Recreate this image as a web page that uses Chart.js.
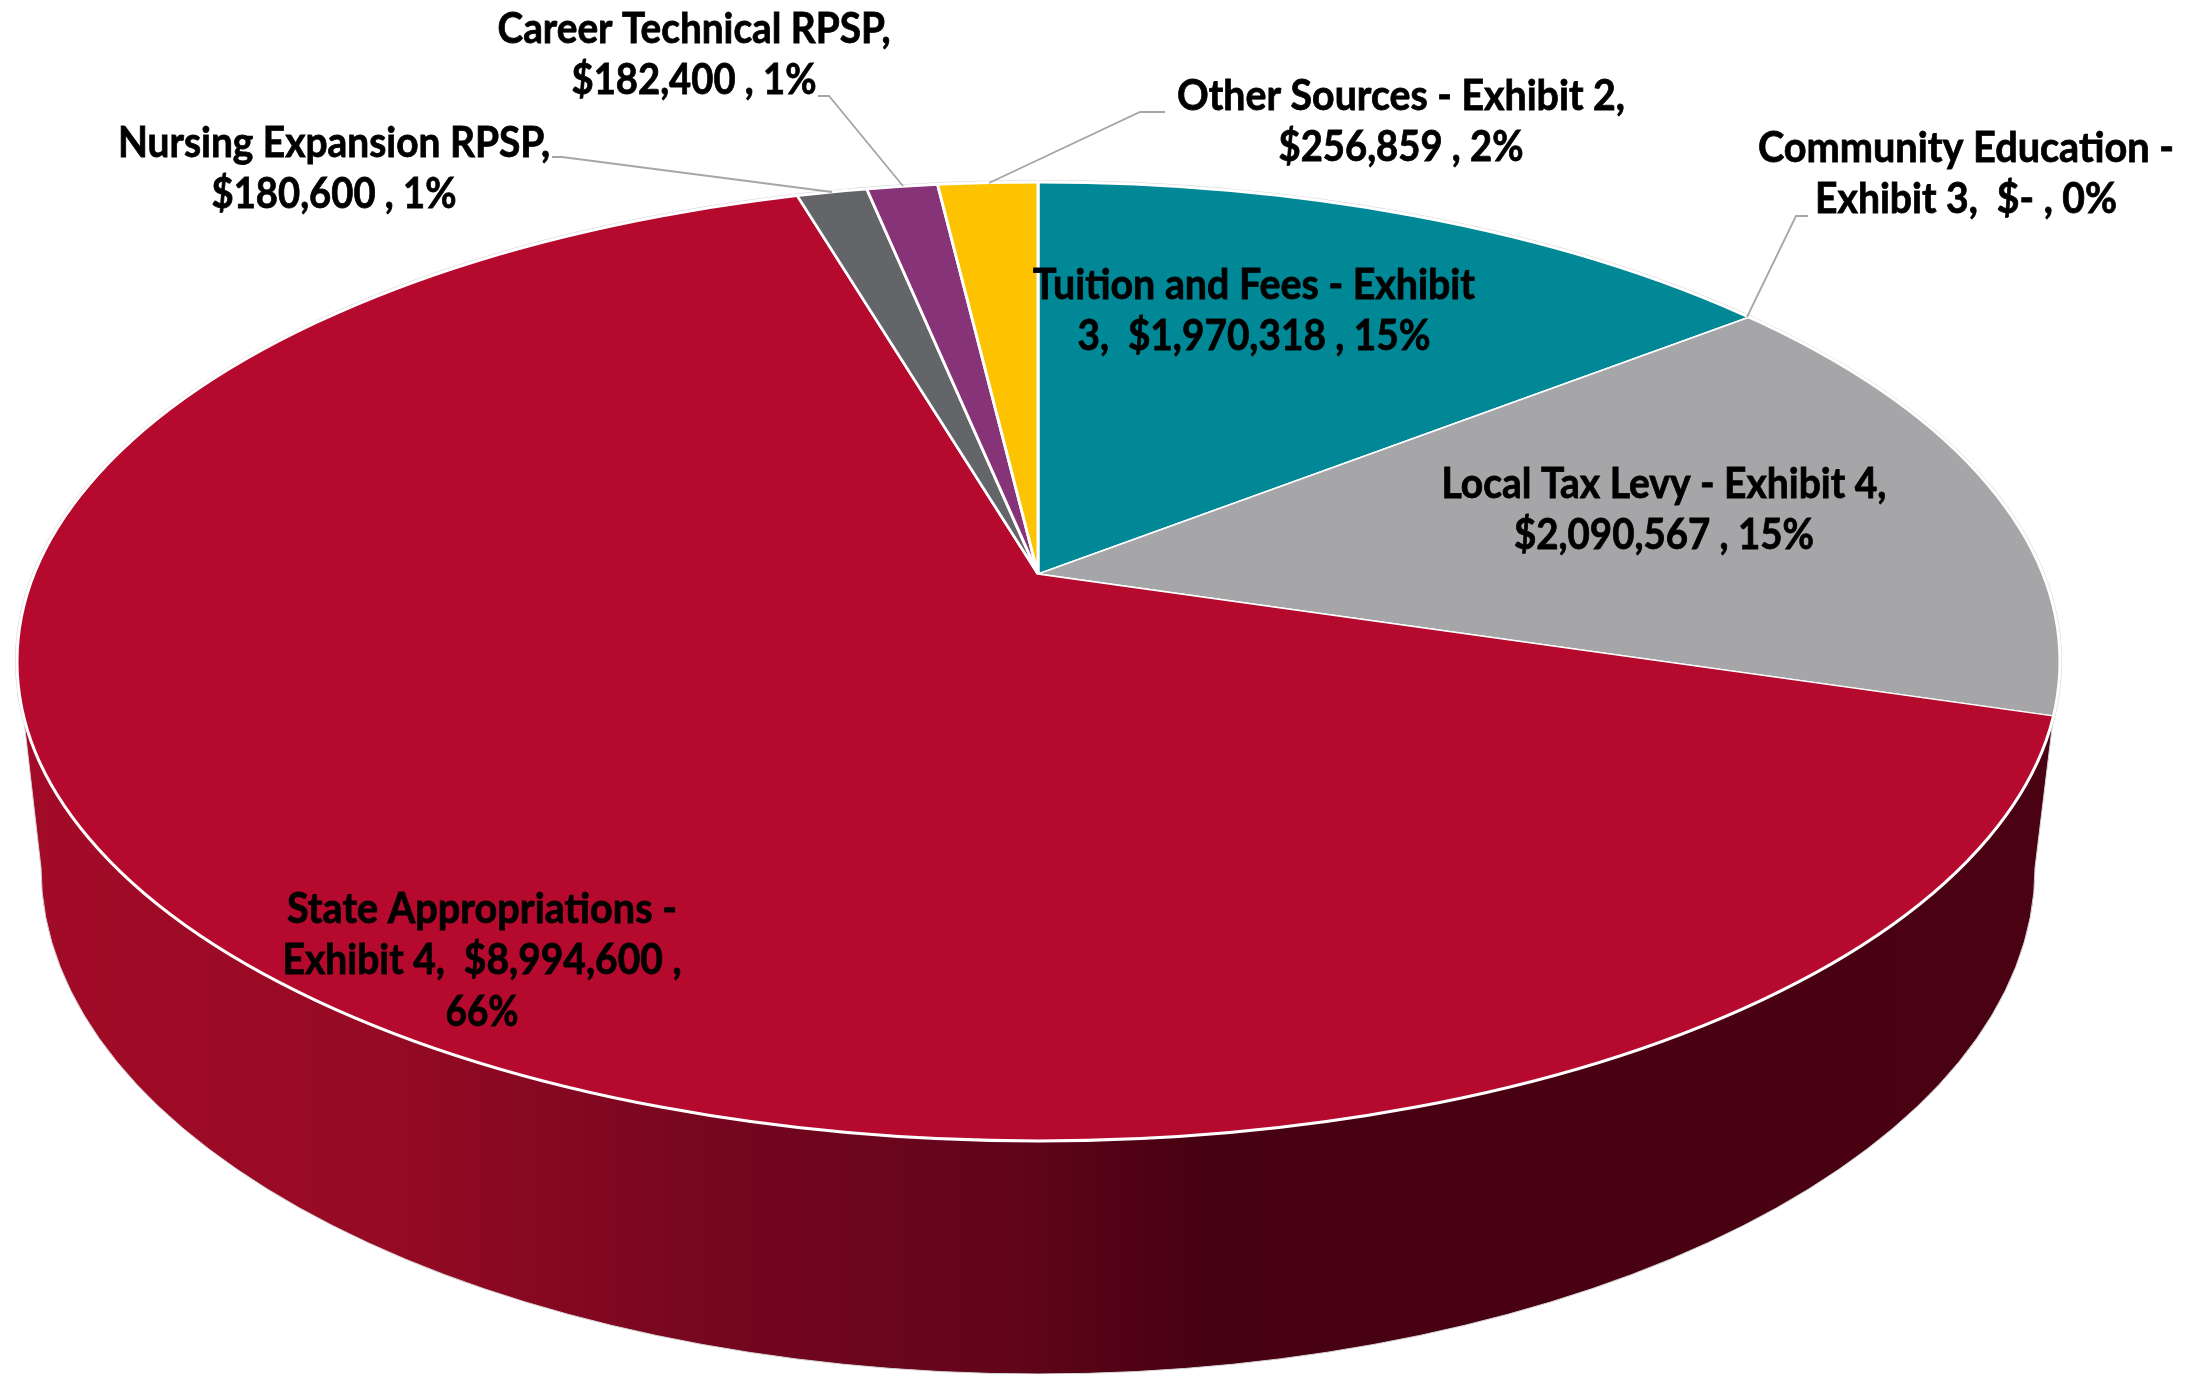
<!DOCTYPE html>
<html>
<head>
<meta charset="utf-8">
<title>Revenue sources</title>
<script src="https://cdn.jsdelivr.net/npm/chart.js@4"></script>
<style>
html, body { margin: 0; padding: 0; background: #fff; overflow: hidden; }
canvas { display: block; }
</style>
</head>
<body>
<canvas id="pieChart" width="2191" height="1374"></canvas>
<script>
var categories = ['Tuition and Fees - Exhibit 3', 'Community Education - Exhibit 3', 'Local Tax Levy - Exhibit 4', 'State Appropriations - Exhibit 4', 'Nursing Expansion RPSP', 'Career Technical RPSP', 'Other Sources - Exhibit 2'];
var amounts = [1970318, 0, 2090567, 8994600, 180600, 182400, 256859];
var sliceColors = ['#018896', '#a6a6a8', '#a6a6a8', '#b50a2e', '#636569', '#873378', '#fdc300'];

// label text as wrapped in the picture
var labelText = [
    ['Tuition and Fees - Exhibit', '3,  $1,970,318 , 15%'],
    ['Community Education -', 'Exhibit 3,  $- , 0%'],
    ['Local Tax Levy - Exhibit 4,', '$2,090,567 , 15%'],
    ['State Appropriations -', 'Exhibit 4,  $8,994,600 ,', '66%'],
    ['Nursing Expansion RPSP,', '$180,600 , 1%'],
    ['Career Technical RPSP,', '$182,400 , 1%'],
    ['Other Sources - Exhibit 2,', '$256,859 , 2%']
];

// x centre, first line y, width of every line
var labelLayout = [
    {x: 1254, y: 285, w: [442, 353]},
    {x: 1966, y: 148, w: [416, 302]},
    {x: 1664, y: 484, w: [445, 300]},
    {x: 482, y: 909, w: [390, 399, 73]},
    {x: 334, y: 143, w: [432, 245]},
    {x: 694, y: 29, w: [393, 245]},
    {x: 1401, y: 96, w: [448, 245]}
];

var leaderLines = [
    [[552, 157], [562, 157], [832, 192]],
    [[818, 96], [829, 96], [903, 186]],
    [[989, 183], [1140, 112], [1165, 112]],
    [[1747, 317], [1796, 216], [1808, 216]]
];

// top face of the pie, the apex sits above the centre of the ellipse
var face = {cx: 1038.5, cy: 661.5, rx: 1021.5, ry: 479.5};
var apex = {x: 1038, y: 574, squash: 0.46};
var base = {cx: 1038, cy: 868, rx: 997, ry: 506};
var rimStart = 0.1118;

function facePath(ctx) {
    ctx.beginPath();
    ctx.ellipse(face.cx, face.cy, face.rx, face.ry, 0, 0, Math.PI * 2);
}

var pie3d = {
    id: 'pie3d',
    beforeDatasetsDraw: function(chart) {
        var ctx = chart.ctx;
        var arc = chart.getDatasetMeta(0).data[0];

        ctx.save();
        facePath(ctx);
        ctx.strokeStyle = '#d4d4d4';
        ctx.lineWidth = 4;
        ctx.stroke();

        var rim = ctx.createLinearGradient(17, 0, 2060, 0);
        rim.addColorStop(0, '#a30b27');
        rim.addColorStop(0.18, '#960a24');
        rim.addColorStop(0.34, '#76061f');
        rim.addColorStop(0.49, '#61051a');
        rim.addColorStop(0.55, '#4e0213');
        rim.addColorStop(0.58, '#480112');
        rim.addColorStop(1, '#4a0213');
        ctx.beginPath();
        ctx.ellipse(face.cx, face.cy, face.rx, face.ry, 0, rimStart, Math.PI - rimStart);
        ctx.lineTo(base.cx - base.rx, base.cy);
        ctx.ellipse(base.cx, base.cy, base.rx, base.ry, 0, Math.PI, 0, true);
        ctx.closePath();
        ctx.fillStyle = rim;
        ctx.fill();
        ctx.strokeStyle = '#d4d4d4';
        ctx.lineWidth = 1;
        ctx.stroke();
        ctx.restore();

        // the library's arcs, laid flat and cut to the top face
        ctx.save();
        facePath(ctx);
        ctx.clip();
        ctx.translate(apex.x, apex.y);
        ctx.scale(1, apex.squash);
        ctx.translate(-arc.x, -arc.y);
    },
    afterDatasetsDraw: function(chart) {
        var ctx = chart.ctx;
        ctx.restore();

        ctx.save();
        facePath(ctx);
        ctx.strokeStyle = '#ffffff';
        ctx.lineWidth = 3;
        ctx.stroke();

        ctx.strokeStyle = '#a6a6a6';
        ctx.lineWidth = 1.8;
        leaderLines.forEach(function(line) {
            ctx.beginPath();
            line.forEach(function(p, i) {
                if (i == 0) {
                    ctx.moveTo(p[0], p[1]);
                } else {
                    ctx.lineTo(p[0], p[1]);
                }
            });
            ctx.stroke();
        });

        ctx.fillStyle = '#000000';
        ctx.strokeStyle = '#000000';
        ctx.lineWidth = 0.8;
        ctx.font = 'bold 42px Lato';
        ctx.textAlign = 'center';
        ctx.textBaseline = 'middle';
        labelText.forEach(function(lines, a) {
            var pos = labelLayout[a];
            lines.forEach(function(text, b) {
                ctx.fillText(text, pos.x, pos.y + b * 51.7, pos.w[b]);
                ctx.strokeText(text, pos.x, pos.y + b * 51.7, pos.w[b]);
            });
        });
        ctx.restore();
    }
};

var el = document.getElementById('pieChart');
var pieChart = new Chart(el.getContext('2d'), {
    type: 'pie',
    data: {
        labels: categories,
        datasets: [{
            data: amounts,
            backgroundColor: sliceColors,
            borderColor: '#ffffff',
            borderWidth: 3,
            clip: false
        }]
    },
    options: {
        responsive: false,
        animation: false,
        radius: 1400,
        layout: { padding: 0 },
        plugins: {
            legend: { display: false },
            tooltip: { enabled: false }
        }
    },
    plugins: [pie3d]
});
</script>
</body>
</html>
